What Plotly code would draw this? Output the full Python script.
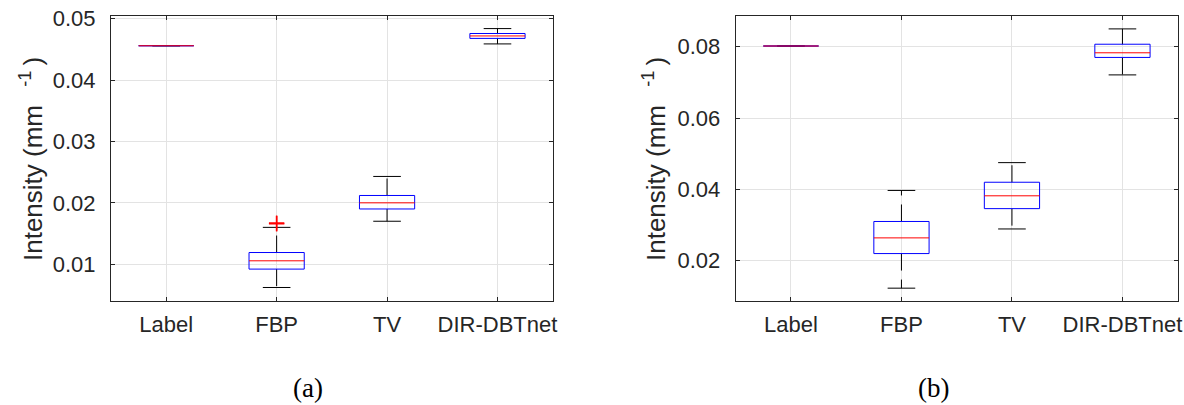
import plotly.graph_objects as go
from plotly.subplots import make_subplots

categories = ["Label", "FBP", "TV", "DIR-DBTnet"]

# Panel (a) statistics
a_lower = [0.0456, 0.0062, 0.0170, 0.0459]
a_q1 = [0.0456, 0.0092, 0.0190, 0.0468]
a_median = [0.0456, 0.01055, 0.0200, 0.0472]
a_q3 = [0.0456, 0.0119, 0.0212, 0.0476]
a_upper = [0.0456, 0.0160, 0.0243, 0.0484]
a_outliers = [[], [0.0167, 0.01658], [], []]

# Panel (b) statistics
b_lower = [0.0802, 0.0123, 0.0289, 0.0721]
b_q1 = [0.0802, 0.0220, 0.0346, 0.0770]
b_median = [0.0802, 0.0264, 0.0382, 0.0783]
b_q3 = [0.0802, 0.0310, 0.0420, 0.0807]
b_upper = [0.0802, 0.0397, 0.0475, 0.0850]
b_outliers = [[], [], [], []]

a_yticks = [0.01, 0.02, 0.03, 0.04, 0.05]
b_yticks = [0.02, 0.04, 0.06, 0.08]

BOX_W = 0.5
CAP_W = 0.25
AX_COLOR = "#262626"
GRID = "#e3e3e3"
FONT = "Liberation Sans"

fig = make_subplots(rows=1, cols=2)


def add_boxes(col, lower, q1, med, q3, upper, outliers):
    xs = list(range(1, len(categories) + 1))
    # whiskers (dashed)
    wx, wy = [], []
    for x, lo, a, b, hi in zip(xs, lower, q1, q3, upper):
        if hi > b:
            wx += [x, x, None]
            wy += [b, hi, None]
        if lo < a:
            wx += [x, x, None]
            wy += [a, lo, None]
    fig.add_trace(go.Scatter(x=wx, y=wy, mode="lines",
                             line=dict(color="black", width=1, dash="17px,9px"),
                             hoverinfo="skip", showlegend=False), row=1, col=col)
    # caps
    cx, cy = [], []
    for x, lo, hi in zip(xs, lower, upper):
        cx += [x - CAP_W / 2, x + CAP_W / 2, None, x - CAP_W / 2, x + CAP_W / 2, None]
        cy += [hi, hi, None, lo, lo, None]
    fig.add_trace(go.Scatter(x=cx, y=cy, mode="lines",
                             line=dict(color="black", width=1),
                             hoverinfo="skip", showlegend=False), row=1, col=col)
    # boxes
    bx, by = [], []
    for x, a, b in zip(xs, q1, q3):
        l, r = x - BOX_W / 2, x + BOX_W / 2
        bx += [l, r, r, l, l, None]
        by += [a, a, b, b, a, None]
    fig.add_trace(go.Scatter(x=bx, y=by, mode="lines",
                             line=dict(color="#0000ff", width=1),
                             hoverinfo="skip", showlegend=False), row=1, col=col)
    # medians
    mx, my = [], []
    for x, m in zip(xs, med):
        mx += [x - BOX_W / 2, x + BOX_W / 2, None]
        my += [m, m, None]
    fig.add_trace(go.Scatter(x=mx, y=my, mode="lines",
                             line=dict(color="#ff0000", width=1),
                             hoverinfo="skip", showlegend=False), row=1, col=col)
    # outliers
    ox, oy = [], []
    for x, outs in zip(xs, outliers):
        for o in outs:
            ox.append(x)
            oy.append(o)
    if ox:
        fig.add_trace(go.Scatter(x=ox, y=oy, mode="markers",
                                 marker=dict(symbol="cross-thin", size=11,
                                             line=dict(color="#ff0000", width=1.5)),
                                 hoverinfo="skip", showlegend=False), row=1, col=col)


add_boxes(1, a_lower, a_q1, a_median, a_q3, a_upper, a_outliers)
add_boxes(2, b_lower, b_q1, b_median, b_q3, b_upper, b_outliers)

W, H = 1184, 405
a_dom = [111 / W, 552.7 / W]
b_dom = [735.7 / W, 1177.7 / W]
y_dom = [(H - 301) / H, (H - 15.7) / H]

axis_common = dict(
    showline=True, linecolor=AX_COLOR, linewidth=1, mirror="ticks",
    ticks="inside", ticklen=4, tickcolor=AX_COLOR, tickwidth=1,
    showgrid=True, gridcolor=GRID, gridwidth=1, zeroline=False,
    automargin=False,
    tickfont=dict(family=FONT, size=22, color=AX_COLOR),
)

fig.update_xaxes(**axis_common, range=[0.5, 4.5],
                 tickvals=[1, 2, 3, 4], ticktext=categories,
                 ticklabelstandoff=4)
fig.update_xaxes(domain=a_dom, row=1, col=1)
fig.update_xaxes(domain=b_dom, row=1, col=2)
fig.update_yaxes(**axis_common, tickformat=".2f", ticklabelstandoff=10)
fig.update_yaxes(domain=y_dom, range=[0.004, 0.0505], tickvals=a_yticks, row=1, col=1)
fig.update_yaxes(domain=y_dom, range=[0.0087, 0.0887], tickvals=b_yticks, row=1, col=2)

ytitle = "Intensity (mm\u2002\u2009<sup>-1</sup>\u2009)"
TITLE_SIZE = 26
annotations = [
    dict(text=ytitle, textangle=-90, x=31 / W, y=(H - 159) / H,
         xref="paper", yref="paper", showarrow=False,
         xanchor="center", yanchor="middle",
         font=dict(family=FONT, size=TITLE_SIZE, color=AX_COLOR)),
    dict(text=ytitle, textangle=-90, x=654 / W, y=(H - 159) / H,
         xref="paper", yref="paper", showarrow=False,
         xanchor="center", yanchor="middle",
         font=dict(family=FONT, size=TITLE_SIZE, color=AX_COLOR)),
    dict(text="(a)", x=307.5 / W, y=0, xref="paper", yref="paper",
         showarrow=False, xanchor="center", yanchor="bottom",
         font=dict(family="Liberation Serif", size=27, color="black")),
    dict(text="(b)", x=933.5 / W, y=0, xref="paper", yref="paper",
         showarrow=False, xanchor="center", yanchor="bottom",
         font=dict(family="Liberation Serif", size=27, color="black")),
]

fig.update_layout(
    width=W, height=H,
    margin=dict(l=0, r=0, t=0, b=0),
    paper_bgcolor="white", plot_bgcolor="white",
    showlegend=False,
    annotations=annotations,
)

fig.write_html("out.html", config={"displayModeBar": False},
               post_script="document.body.style.margin='0';document.body.style.overflow='hidden';")
